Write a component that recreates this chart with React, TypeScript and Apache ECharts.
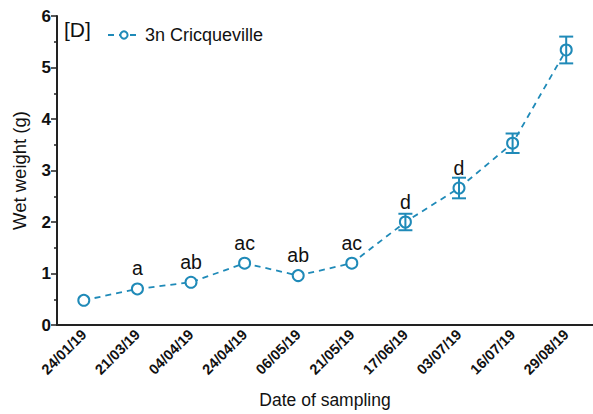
import React, { useEffect, useRef } from "react";
import * as echarts from "echarts";

const dates = ["24/01/19", "21/03/19", "04/04/19", "24/04/19", "06/05/19", "21/05/19", "17/06/19", "03/07/19", "16/07/19", "29/08/19"];
const means = [0.48, 0.7, 0.83, 1.2, 0.96, 1.2, 2.0, 2.66, 3.53, 5.34];
const errors = [0.0, 0.0, 0.0, 0.0, 0.0, 0.0, 0.16, 0.2, 0.19, 0.26];
const letters = ["", "a", "ab", "ac", "ab", "ac", "d", "d", "", ""];
const yTicks = [0, 1, 2, 3, 4, 5, 6];

const COLOR = "#1f8ab8";
const FONT = "Arial, 'Liberation Sans', sans-serif";

export default function App() {
  const ref = useRef<HTMLDivElement>(null);
  useEffect(() => {
    const chart = echarts.init(ref.current!, null, { renderer: "svg" });
    const errData = dates.map((d, i) => [i, means[i] - errors[i], means[i] + errors[i]]);
    chart.setOption({
      animation: false,
      grid: { left: 57, right: 0, top: 16, bottom: 89 },
      graphic: [
        {
          type: "text",
          left: 64,
          top: 19,
          style: { text: "[D]", font: "21px Arial, 'Liberation Sans', sans-serif", fill: "#111" },
        },
      ],
      legend: {
        left: 102,
        top: 21,
        itemWidth: 32,
        itemHeight: 9,
        itemGap: 4,
        textStyle: { fontSize: 18, color: "#111", fontFamily: FONT },
        data: [{ name: "3n Cricqueville" }],
      },
      xAxis: {
        type: "category",
        data: dates,
        boundaryGap: true,
        axisLine: { lineStyle: { color: "#222", width: 2 } },
        axisTick: { alignWithLabel: true, length: 7, lineStyle: { color: "#222", width: 1.5 } },
        axisLabel: {
          rotate: 45,
          color: "#111",
          fontWeight: "bold",
          fontSize: 14.5,
          fontFamily: FONT,
          margin: 7,
          interval: 0,
        },
        name: "Date of sampling",
        nameLocation: "middle",
        nameGap: 66,
        nameTextStyle: { fontSize: 17.5, color: "#111", fontFamily: FONT },
      },
      yAxis: {
        type: "value",
        min: yTicks[0],
        max: yTicks[yTicks.length - 1],
        interval: 1,
        splitLine: { show: false },
        axisLine: { show: true, lineStyle: { color: "#222", width: 2 } },
        axisTick: { show: true, length: 6, lineStyle: { color: "#222", width: 1.5 } },
        minorTick: { show: true, splitNumber: 2, length: 3, lineStyle: { color: "#222", width: 1.5 } },
        axisLabel: {
          color: "#111",
          fontWeight: "bold",
          fontSize: 17,
          fontFamily: FONT,
          margin: 6,
        },
        name: "Wet weight (g)",
        nameLocation: "middle",
        nameGap: 28,
        nameTextStyle: { fontSize: 18.5, color: "#111", fontFamily: FONT },
      },
      series: [
        {
          name: "3n Cricqueville",
          type: "line",
          data: means,
          symbol: "emptyCircle",
          symbolSize: 11,
          showSymbol: true,
          showAllSymbol: true,
          color: COLOR,
          lineStyle: { type: [6, 5], width: 1.8, color: COLOR },
          itemStyle: { color: COLOR, borderColor: COLOR, borderWidth: 1.8 },
          label: {
            show: true,
            position: "top",
            distance: 4,
            fontSize: 19.5,
            color: "#111",
            fontFamily: FONT,
            formatter: (p: any) => letters[p.dataIndex],
          },
          z: 3,
        },
        {
          type: "custom",
          data: errData,
          z: 4,
          renderItem: (params: any, api: any) => {
            const x = api.value(0);
            const lo = api.coord([x, api.value(1)]);
            const hi = api.coord([x, api.value(2)]);
            if (Math.abs(lo[1] - hi[1]) < 1) return null;
            const w = 7;
            const fill = { fill: COLOR };
            return {
              type: "group",
              children: [
                { type: "rect", shape: { x: lo[0] - 1, y: hi[1], width: 2, height: lo[1] - hi[1] }, style: fill },
                { type: "rect", shape: { x: lo[0] - w, y: lo[1] - 1, width: 2 * w, height: 2 }, style: fill },
                { type: "rect", shape: { x: hi[0] - w, y: hi[1] - 1, width: 2 * w, height: 2 }, style: fill },
              ],
            };
          },
        },
      ],
    });
    return () => chart.dispose();
  }, []);
  return (
    <div
      ref={ref}
      style={{ position: "absolute", left: 0, top: 0, width: 593, height: 414, background: "#fff" }}
    />
  );
}
